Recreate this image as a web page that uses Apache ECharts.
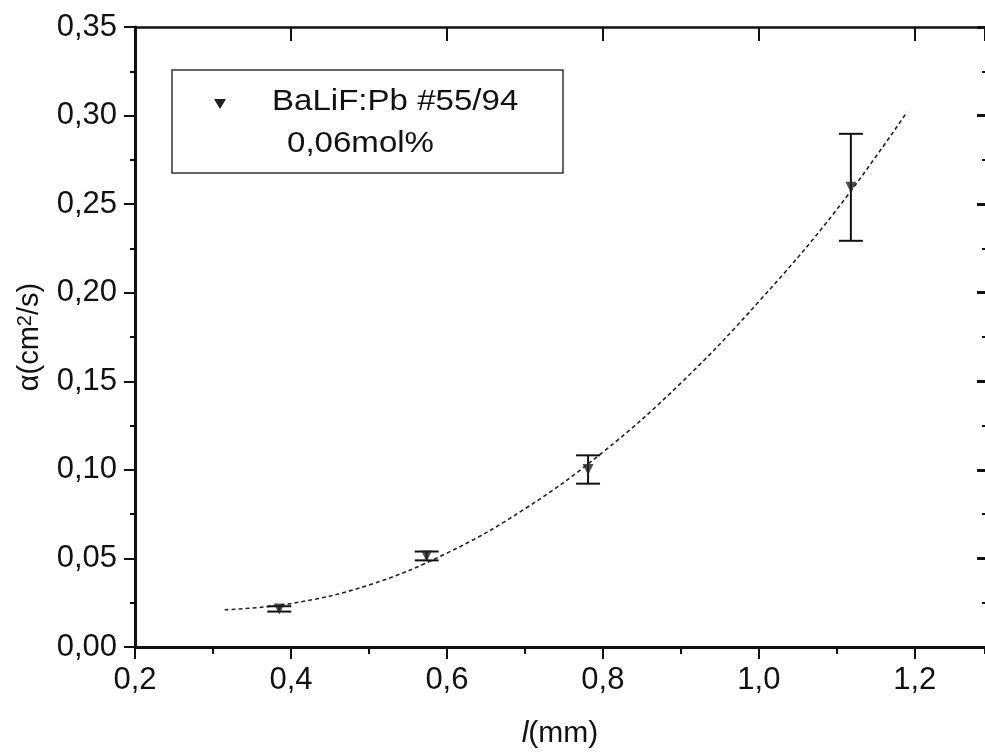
<!DOCTYPE html>
<html>
<head>
<meta charset="utf-8">
<script src="https://cdn.jsdelivr.net/npm/echarts@6/dist/echarts.min.js"></script>
<style>
html,body{margin:0;padding:0;background:#fff;}
#chart{width:985px;height:754px;}
</style>
</head>
<body>
<div id="chart"></div>
<script>
// ---- data ----
const pointX = [0.385, 0.574, 0.781, 1.118];
const pointY = [0.0215, 0.0514, 0.1002, 0.2595];
const pointErr = [0.0015, 0.0025, 0.0080, 0.0302];
const fitX = [0.315, 0.4, 0.5, 0.6, 0.7, 0.8, 0.9, 1.0, 1.1, 1.19];
const fitY = [0.021, 0.0245, 0.035, 0.053, 0.078, 0.110, 0.149, 0.195, 0.247, 0.302];
const seriesName = 'BaLiF:Pb #55/94';
const legendSub = '0,06mol%';
const xTicks = [0.2, 0.4, 0.6, 0.8, 1.0, 1.2];
const yTicks = [0.00, 0.05, 0.10, 0.15, 0.20, 0.25, 0.30, 0.35];
const xMax = 1.29;

const FONT = '"Liberation Sans", Arial, sans-serif';
const INK = '#111';

const pts = pointX.map((x, i) => [x, pointY[i], pointErr[i]]);
const fit = fitX.map((x, i) => [x, fitY[i]]);

const chart = echarts.init(document.getElementById('chart'), null, {renderer: 'canvas'});

const xBase = {
  type: 'value', min: xTicks[0], max: xMax, gridIndex: 0,
  splitLine: {show: false}
};
const option = {
  backgroundColor: '#fff',
  animation: false,
  grid: {left: 135, right: 0, top: 27, bottom: 105, containLabel: false},
  xAxis: [
    Object.assign({}, xBase, {
      position: 'bottom', interval: 0.2,
      name: '{i|l}(mm)', nameLocation: 'middle', nameGap: 72,
      nameTextStyle: {
        fontFamily: FONT, fontSize: 30, color: INK,
        rich: {i: {fontFamily: FONT, fontSize: 30, color: INK, fontStyle: 'italic'}}
      },
      axisLine: {show: true, onZero: false, lineStyle: {color: INK, width: 3}},
      axisTick: {show: true, inside: false, length: 12, lineStyle: {color: INK, width: 2}},
      axisLabel: {
        show: true, margin: 18, fontFamily: FONT, fontSize: 31, color: INK,
        showMaxLabel: false,
        formatter: v => (xTicks.some(t => Math.abs(t - v) < 1e-9) ? v.toFixed(1).replace('.', ',') : '')
      }
    }),
    Object.assign({}, xBase, {
      position: 'bottom', interval: 0.1,
      axisLine: {show: false},
      axisTick: {show: true, inside: false, length: 7, lineStyle: {color: INK, width: 2}},
      axisLabel: {show: false}
    }),
    Object.assign({}, xBase, {
      position: 'top', interval: 0.2,
      axisLine: {show: true, onZero: false, lineStyle: {color: INK, width: 2.5}},
      axisTick: {show: true, inside: true, length: 14, lineStyle: {color: INK, width: 2}},
      axisLabel: {show: false}
    }),
    Object.assign({}, xBase, {
      position: 'top', interval: 0.1,
      axisLine: {show: false},
      axisTick: {show: true, inside: true, length: 6, lineStyle: {color: INK, width: 2}},
      axisLabel: {show: false}
    })
  ],
  yAxis: [
    {
      type: 'value', min: 0, max: 0.35, interval: 0.05, position: 'left',
      name: 'α(cm{sup|2}/s)', nameLocation: 'middle', nameGap: 86, nameRotate: 90,
      nameTextStyle: {
        fontFamily: FONT, fontSize: 29, color: INK,
        rich: {sup: {fontFamily: FONT, fontSize: 20, color: INK, verticalAlign: 'top', lineHeight: 29, padding: [0, 0, 10, 0]}}
      },
      splitLine: {show: false},
      axisLine: {show: true, onZero: false, lineStyle: {color: INK, width: 3}},
      axisTick: {show: true, inside: false, length: 11, lineStyle: {color: INK, width: 2}},
      minorTick: {show: true, splitNumber: 2, length: 5, lineStyle: {color: INK, width: 2}},
      axisLabel: {
        show: true, margin: 18, fontFamily: FONT, fontSize: 31, color: INK,
        formatter: v => v.toFixed(2).replace('.', ',')
      }
    },
    {
      type: 'value', min: 0, max: 0.35, interval: 0.05, position: 'right',
      splitLine: {show: false},
      axisLine: {show: false},
      axisTick: {show: true, inside: true, length: 8, lineStyle: {color: INK, width: 3}},
      minorTick: {show: true, splitNumber: 2, length: 3, lineStyle: {color: INK, width: 2}},
      axisLabel: {show: false}
    }
  ],
  series: [
    {
      name: 'fit', type: 'line', xAxisIndex: 0, yAxisIndex: 0,
      data: fit, smooth: 0.4, showSymbol: false, symbol: 'none',
      lineStyle: {color: '#222', width: 1.6, type: [4, 3]},
      z: 2
    },
    {
      name: 'err', type: 'custom', xAxisIndex: 0, yAxisIndex: 0,
      data: pts,
      renderItem: function (params, api) {
        const x = api.value(0), y = api.value(1), e = api.value(2);
        const top = api.coord([x, y + e]);
        const bot = api.coord([x, y - e]);
        const hw = 12;
        const style = {stroke: INK, lineWidth: 2};
        return {
          type: 'group',
          children: [
            {type: 'line', shape: {x1: top[0], y1: top[1], x2: bot[0], y2: bot[1]}, style: style},
            {type: 'line', shape: {x1: top[0] - hw, y1: top[1], x2: top[0] + hw, y2: top[1]}, style: style},
            {type: 'line', shape: {x1: bot[0] - hw, y1: bot[1], x2: bot[0] + hw, y2: bot[1]}, style: style}
          ]
        };
      },
      z: 3
    },
    {
      name: seriesName, type: 'scatter', xAxisIndex: 0, yAxisIndex: 0,
      data: pts.map(p => [p[0], p[1]]),
      symbol: 'triangle', symbolRotate: 180, symbolSize: 11,
      itemStyle: {color: '#222'},
      z: 4
    }
  ],
  graphic: [
    {
      type: 'rect', x: 172, y: 70, z: 10,
      shape: {x: 0, y: 0, width: 391, height: 103},
      style: {fill: '#fff', stroke: '#333', lineWidth: 1.5}
    },
    {
      type: 'polygon', z: 11,
      shape: {points: [[214, 99], [226, 99], [220, 109]]},
      style: {fill: '#222'}
    },
    {
      type: 'text', x: 272, y: 87, scaleX: 1.14, z: 11,
      style: {text: seriesName, font: '29px "Liberation Sans", Arial, sans-serif', fill: INK}
    },
    {
      type: 'text', x: 287, y: 129, scaleX: 1.14, z: 11,
      style: {text: legendSub, font: '29px "Liberation Sans", Arial, sans-serif', fill: INK}
    }
  ]
};
chart.setOption(option);
</script>
</body>
</html>
